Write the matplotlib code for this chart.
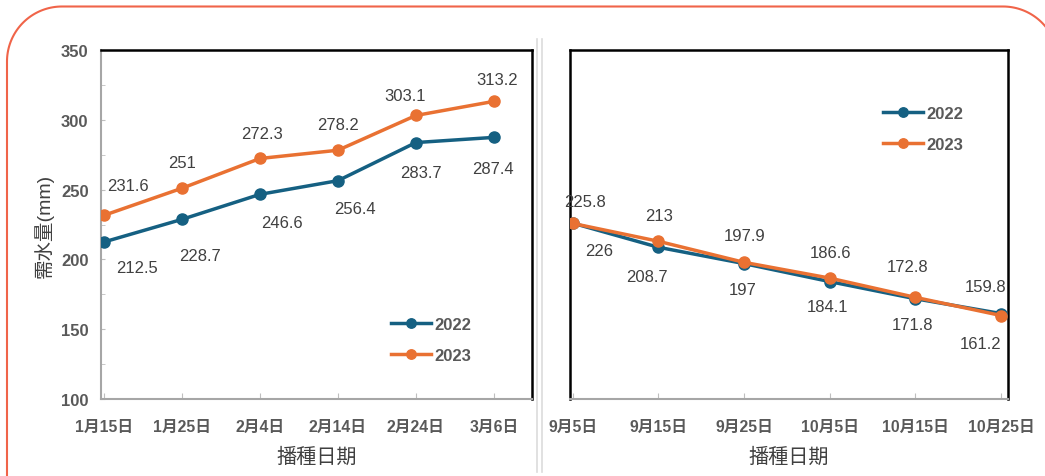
import matplotlib
matplotlib.use("Agg")
import numpy as np
import matplotlib.pyplot as plt
from matplotlib.lines import Line2D
from matplotlib.ticker import MultipleLocator
from matplotlib.transforms import Affine2D

plt.rcParams['font.family'] = ['Liberation Sans', 'Noto Sans CJK TC', 'DejaVu Sans']

# ---- data ----
spring_dates = ["1月15日", "1月25日", "2月4日", "2月14日", "2月24日", "3月6日"]
spring_2022 = [212.5, 228.7, 246.6, 256.4, 283.7, 287.4]
spring_2023 = [231.6, 251, 272.3, 278.2, 303.1, 313.2]

autumn_dates = ["9月5日", "9月15日", "9月25日", "10月5日", "10月15日", "10月25日"]
autumn_2022 = [226, 208.7, 197, 184.1, 171.8, 161.2]
autumn_2023 = [225.8, 213, 197.9, 186.6, 172.8, 159.8]

series_names = ["2022", "2023"]
ylabel = "需水量(mm)"
xlabel = "播種日期"

# ---- style ----
C22 = "#156082"
C23 = "#E97132"
TXT = "#404040"
TICK = "#595959"

W, H = 1045, 477
fig = plt.figure(figsize=(W / 100, H / 100), dpi=100)
pix = Affine2D().scale(1 / W, 1 / H) + fig.transFigure

# decorative rounded border (pixel geometry, y measured upward)
bx0, bx1, btop, r = 7, 1058, H - 7.5, 55
t1 = np.linspace(np.pi, np.pi / 2, 40)
t2 = np.linspace(np.pi / 2, 0, 40)
bx = np.concatenate([[bx0], bx0 + r + r * np.cos(t1), bx1 - r + r * np.cos(t2), [bx1]])
by = np.concatenate([[-50], btop - r + r * np.sin(t1), btop - r + r * np.sin(t2), [-50]])
fig.add_artist(Line2D(bx, by, transform=pix, color="#F06449", linewidth=1.5))

# divider
for xp in (537, 542):
    fig.add_artist(Line2D([xp, xp], [H - 40, H - 473], transform=pix,
                          color="#DCDCDC", linewidth=1.2))


def px_axes(x0, x1, y0, y1):
    return fig.add_axes([x0 / W, 1 - y1 / H, (x1 - x0) / W, (y1 - y0) / H])


def style_axes(ax, left_gray):
    for s in ("top", "right"):
        ax.spines[s].set_color("black")
        ax.spines[s].set_linewidth(1.8)
    ax.spines["bottom"].set_color("#A6A6A6")
    ax.spines["bottom"].set_linewidth(1.5)
    if left_gray:
        ax.spines["left"].set_color("#A6A6A6")
        ax.spines["left"].set_linewidth(1.5)
    else:
        ax.spines["left"].set_color("black")
        ax.spines["left"].set_linewidth(1.8)
    ax.set_ylim(100, 350)
    ax.yaxis.set_major_locator(MultipleLocator(50))
    ax.yaxis.set_minor_locator(MultipleLocator(25))
    ax.tick_params(axis="x", direction="in", length=4, color="#BFBFBF",
                   labelsize=11.3, labelcolor=TICK, pad=14)
    ax.tick_params(axis="y", which="both", direction="in", length=3,
                   color="#BFBFBF", labelsize=12, labelcolor=TICK, pad=9)
    for lab in ax.get_xticklabels() + ax.get_yticklabels():
        lab.set_fontweight("bold")
    ax.set_xlabel(xlabel, fontsize=14.5, color=TXT, labelpad=9.5)


def draw(ax, cats, s22, s23, off22, off23, legend_loc):
    x = list(range(len(cats)))
    ax.plot(x, s22, color=C22, lw=2.5, marker="o", ms=8, label=series_names[0], zorder=3)
    ax.plot(x, s23, color=C23, lw=2.5, marker="o", ms=8, label=series_names[1], zorder=4)
    for xi, v, o in zip(x, s22, off22):
        ax.annotate(f"{v:g}", (xi, v), xytext=o, textcoords="offset pixels",
                    ha="center", va="center", fontsize=12, color=TXT)
    for xi, v, o in zip(x, s23, off23):
        ax.annotate(f"{v:g}", (xi, v), xytext=o, textcoords="offset pixels",
                    ha="center", va="center", fontsize=12, color=TXT)
    ax.set_xticks(x)
    ax.set_xticklabels(cats)
    leg = ax.legend(loc=legend_loc, frameon=False, fontsize=12,
                    handlelength=2.4, handletextpad=0.2, labelspacing=0.95,
                    borderaxespad=0, markerscale=0.85)
    for t in leg.get_texts():
        t.set_color(TICK)
        t.set_fontweight("bold")


# left chart
axL = px_axes(101, 532, 51, 400)
draw(axL, spring_dates, spring_2022, spring_2023,
     off22=[(33, -26), (18, -36), (22, -28), (17, -28), (5, -30), (-1, -31)],
     off23=[(24, 30), (0, 26), (2, 25), (0, 26), (-11, 20), (3, 22)],
     legend_loc=(0.658, 0.085))
axL.set_xlim(-0.04, 5.49)
style_axes(axL, left_gray=True)
axL.set_ylabel(ylabel, fontsize=14, color=TXT, labelpad=5)

# right chart
axR = px_axes(570, 1008, 51, 400)
draw(axR, autumn_dates, autumn_2022, autumn_2023,
     off22=[(27, -27), (-11, -29), (-1, -26), (-2, -25), (-3, -26), (-21, -30)],
     off23=[(12, 22), (1, 26), (1, 27), (1, 26), (-8, 31), (-16, 29)],
     legend_loc=(0.699, 0.69))
axR.set_xlim(-0.03, 5.08)
style_axes(axR, left_gray=False)
axR.tick_params(axis="y", which="both", left=False, labelleft=False)

fig.savefig("out.png", dpi=100)
